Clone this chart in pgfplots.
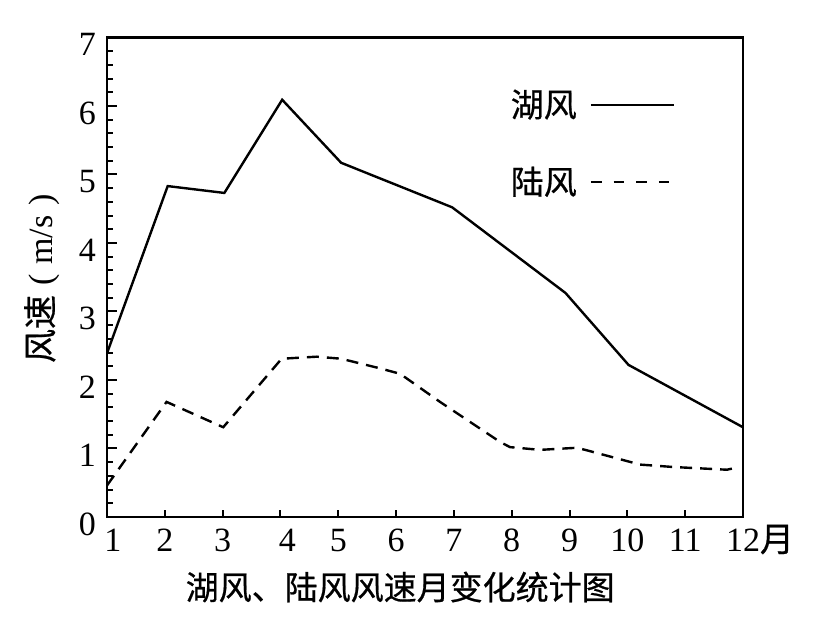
\documentclass[border=0pt]{standalone}
\usepackage{fontspec}
\setmainfont{Liberation Serif}
\newfontfamily\cjk[FakeBold=0.6]{Noto Sans CJK SC}
\usepackage{pgfplots}
\pgfplotsset{compat=1.18}

\newcommand{\chartfont}{\fontsize{16.5bp}{19bp}\selectfont}
\newcommand{\tickfont}{\fontsize{17bp}{19bp}\selectfont}

\begin{document}
\begin{tikzpicture}
\begin{axis}[
    at={(0,0)}, anchor=south west,
    scale only axis,
    width=318bp, height=239.8bp,
    xmin=1, xmax=12, ymin=0, ymax=7,
    xtick={1,2,3,4,5,6,7,8,9,10,11,12},
    xticklabels={\hspace*{6bp}1,2,3,\hspace*{7bp}4,5,6,7,8,9,10,11,12\rlap{\smash{\cjk 月}}},
    ytick={0,1,2,3,4,5,6,7},
    minor y tick num=4,
    tick align=inside,
    xtick pos=bottom, ytick pos=left,
    major tick length=5bp, minor tick length=3bp,
    xtick style={/pgfplots/major tick length=3.5bp},
    axis line style={line width=1.3bp},
    every tick/.style={black, line width=1bp},
    /pgf/number format/assume math mode=true,
    tick label style={font=\tickfont},
    yticklabel style={xshift=-2bp, yshift=-3.5bp},
    xticklabel style={yshift=-2.5bp},
    xlabel={\cjk 湖风、陆风风速月变化统计图},
    xlabel style={at={(axis description cs:0.461,-0.146)}, anchor=center, font=\chartfont},
    ylabel={{\cjk 风速}\hspace{5bp}(\hspace{4.5bp}m/s\hspace{5bp})},
    ylabel style={at={(axis description cs:-0.102,0.497)}, anchor=center,
        font=\fontsize{17bp}{19bp}\selectfont},
    legend plot pos=right,
    legend cell align=left,
    legend style={draw=none, fill=none, inner sep=0pt,
        at={(axis description cs:0.628,0.779)}, anchor=west,
        font=\cjk\chartfont, row sep=19.4bp, column sep=4.5bp},
    legend image code/.code={\draw[#1] (0bp,0bp) -- (41.6bp,0bp);},
]
% 湖风
\addplot[black, line width=1.2bp] coordinates {
    (1,2.39) (2.05,4.83) (3.03,4.73) (4.03,6.09) (5.05,5.17)
    (6.97,4.52) (8.93,3.27) (10.02,2.22) (12,1.31)
};
\addlegendentry{湖风}
% 陆风
\addplot[black, line width=1.2bp, dash pattern=on 6bp off 4bp,
    legend image code/.code={\draw[black, line width=1.2bp, dash pattern=on 5.3bp off 6bp] (0bp,0bp) -- (39.2bp,0bp);}]
    coordinates {
    (1,0.46) (2.03,1.68) (3.01,1.31) (4.02,2.31) (4.63,2.34) (5.05,2.31)
    (5.72,2.17) (6.07,2.09) (6.76,1.68) (7.80,1.095) (7.97,1.02) (8.49,0.98)
    (9.12,1.01) (9.27,0.98) (10.22,0.765) (10.79,0.73) (11.72,0.69) (11.89,0.72)
};
\addlegendentry{陆风}
\end{axis}
\path (-53.5bp,-58bp) rectangle (359.5bp,258.5bp);
\end{tikzpicture}
\end{document}
